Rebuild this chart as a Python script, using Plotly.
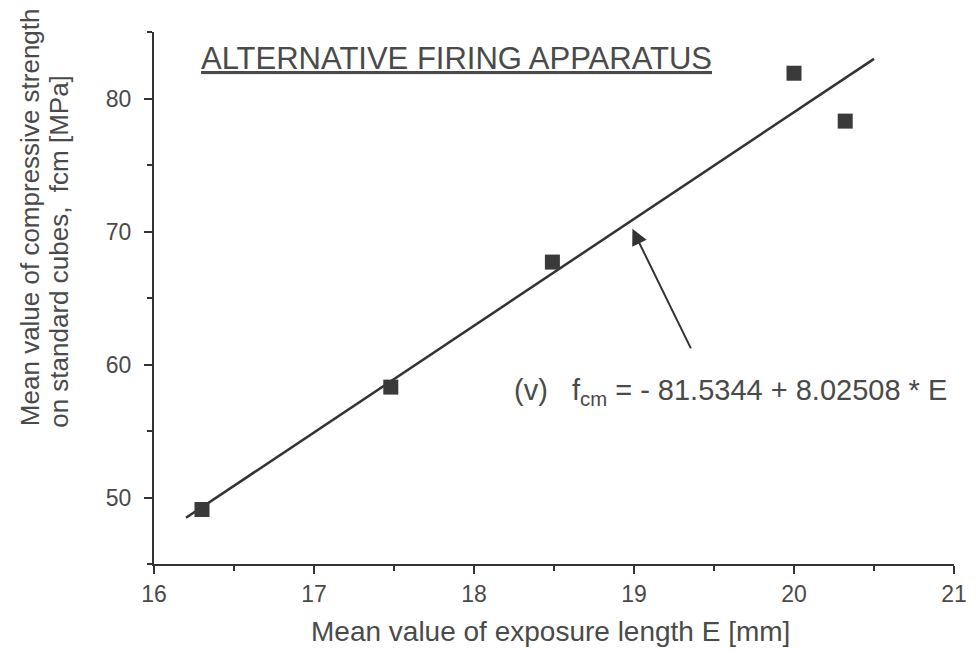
import plotly.graph_objects as go

# Data
exposure_E = [16.3, 17.48, 18.49, 20.0, 20.32]
strength_fcm = [49.1, 58.3, 67.7, 81.9, 78.3]

# Regression stated on the chart: fcm = -81.5344 + 8.02508 * E
intercept = -81.5344
slope = 8.02508
fit_E = [16.2, 20.5]
fit_fcm = [intercept + slope * e for e in fit_E]

x_ticks = [16, 17, 18, 19, 20, 21]
y_ticks = [50, 60, 70, 80]

title_text = "ALTERNATIVE FIRING APPARATUS"
equation_text = "(v)   f<sub>cm</sub> = - 81.5344 + 8.02508 * E"
x_title = "Mean value of exposure length E [mm]"
y_title_1 = "Mean value of compressive strength"
y_title_2 = "on standard cubes,  fcm [MPa]"

ink = "#333333"
text_col = "#4a4a4a"
font_family = "Liberation Sans, Arial, Helvetica, sans-serif"

fig = go.Figure()
fig.add_trace(go.Scatter(
    x=fit_E, y=fit_fcm, mode="lines",
    line=dict(color=ink, width=2.5), showlegend=False, hoverinfo="skip"))
fig.add_trace(go.Scatter(
    x=exposure_E, y=strength_fcm, mode="markers",
    marker=dict(symbol="square", size=15, color="#3a3a3a"),
    showlegend=False))

axis_common = dict(
    showline=True, linecolor=ink, linewidth=2, mirror=False,
    showgrid=False, zeroline=False,
    ticks="outside", ticklen=8, tickwidth=2, tickcolor=ink,
    tickfont=dict(size=23, color=text_col, family=font_family),
)

fig.update_xaxes(range=[16, 21], tickvals=x_ticks,
                 minor=dict(dtick=0.5, tick0=16, ticks="outside", ticklen=5,
                            tickwidth=2, tickcolor=ink, showgrid=False),
                 **axis_common)
fig.update_yaxes(range=[45, 85], tickvals=y_ticks, ticklabelstandoff=8,
                 minor=dict(dtick=5, tick0=45, ticks="outside", ticklen=5,
                            tickwidth=2, tickcolor=ink, showgrid=False),
                 **axis_common)

annotations = [
    dict(x=17.89, y=83.0, xref="x", yref="y", text="<u>" + title_text + "</u>",
         xanchor="center", yanchor="middle",
         showarrow=False, font=dict(size=31, color=text_col, family=font_family)),
    dict(x=19.6, y=57.9, xref="x", yref="y", text=equation_text,
         xanchor="center", yanchor="middle",
         showarrow=False, font=dict(size=29, color=text_col, family=font_family)),
    # arrow pointing at the fitted line
    dict(x=18.99, y=70.2, xref="x", yref="y", ax=19.36, ay=61.1,
         axref="x", ayref="y", text="", showarrow=True,
         arrowhead=2, arrowsize=1.6, arrowwidth=2, arrowcolor=ink),
    dict(x=0.495, y=-0.126, xref="paper", yref="paper", text=x_title,
         xanchor="center", yanchor="middle",
         showarrow=False, font=dict(size=28, color=text_col, family=font_family)),
    dict(x=-0.155, y=0.652, xref="paper", yref="paper", text=y_title_1,
         xanchor="center", yanchor="middle",
         textangle=-90, showarrow=False,
         font=dict(size=26, color=text_col, family=font_family)),
    dict(x=-0.118, y=0.588, xref="paper", yref="paper", text=y_title_2,
         xanchor="center", yanchor="middle",
         textangle=-90, showarrow=False,
         font=dict(size=26, color=text_col, family=font_family)),
]

fig.update_layout(
    width=976, height=650,
    margin=dict(l=146, r=30, t=24, b=94),
    paper_bgcolor="white", plot_bgcolor="white",
    annotations=annotations,
    font=dict(family=font_family, color=text_col),
)

fig.write_html("out.html")
